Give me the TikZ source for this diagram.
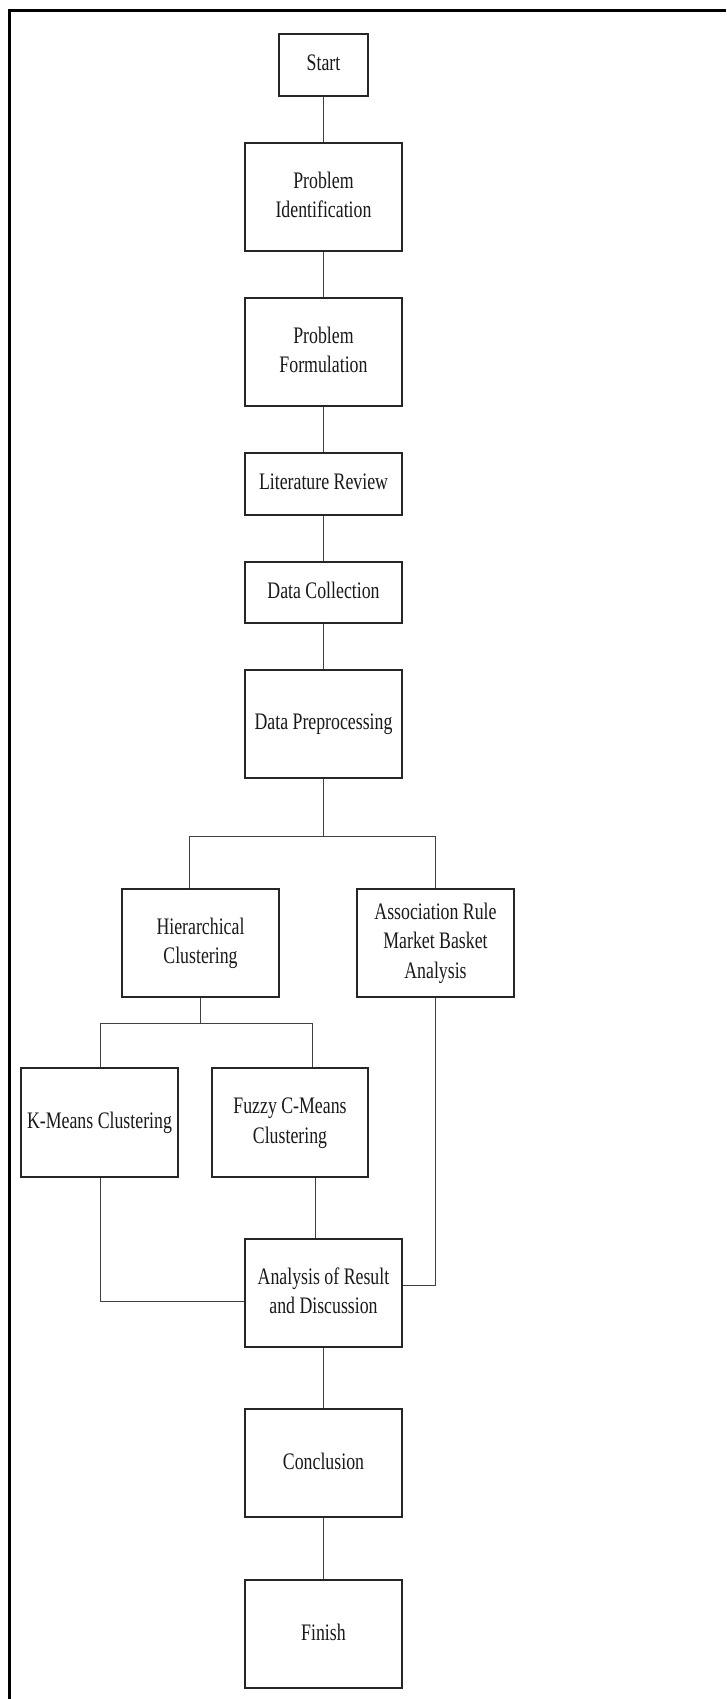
\documentclass[tikz,border=0pt]{standalone}
\usepackage{fontspec}
\usepackage{graphicx}
\setmainfont{Liberation Serif}
\newcommand{\tx}[1]{\scalebox{1}[1.33]{\begin{tabular}{@{}c@{}}#1\end{tabular}}}
\begin{document}
\begin{tikzpicture}[x=1pt,y=-1pt,
  box/.style={draw=black!85,line width=1.2pt,rectangle,inner sep=0pt,
    minimum width=157pt,minimum height=108pt,
    font=\fontsize{17.8}{22.5}\selectfont,text=black!90},
  conn/.style={draw=black!75,line width=1pt},
  frame/.style={draw=black,line width=3pt}]
\useasboundingbox (0,0) rectangle (726,1699);
\fill[white] (0,0) rectangle (726,1699);
% frame (cropped)
\draw[frame] (9.5,10.5) -- (726,10.5);
\draw[frame] (9.5,9) -- (9.5,1699);
% nodes
\node[box,minimum width=89pt,minimum height=62pt] (start) at (323.5,65) {\tx{Start}};
\node[box] (pid) at (323.5,197) {\tx{Problem\\Identification}};
\node[box] (pf) at (323.5,352) {\tx{Problem\\Formulation}};
\node[box,minimum height=62pt] (lr) at (323.5,484) {\tx{Literature Review}};
\node[box,minimum height=61pt] (dc) at (323.5,592.5) {\tx{Data Collection}};
\node[box] (dp) at (323.5,724) {\tx{Data Preprocessing}};
\node[box] (hc) at (200.5,943) {\tx{Hierarchical\\Clustering}};
\node[box] (ar) at (435.5,943) {\tx{Association Rule\\Market Basket\\Analysis}};
\node[box,minimum height=109pt] (km) at (99.5,1122.5) {\tx{K-Means Clustering}};
\node[box,minimum width=156pt,minimum height=109pt] (fc) at (290,1122.5) {\tx{Fuzzy C-Means\\Clustering}};
\node[box] (an) at (323.5,1293) {\tx{Analysis of Result\\and Discussion}};
\node[box] (co) at (323.5,1463) {\tx{Conclusion}};
\node[box] (fi) at (323.5,1634) {\tx{Finish}};
% branch coordinates
\coordinate (b1) at (323.5,836);
\coordinate (b1l) at (189,836);
\coordinate (b1r) at (435,836);
\coordinate (b2) at (200,1023);
\coordinate (b2l) at (100,1023);
\coordinate (b2r) at (312,1023);
\coordinate (kmc) at (100,1301);
\coordinate (arc) at (435,1285);
\coordinate (fcx) at (315,1177);
% connectors
\draw[conn] (start) -- (pid);
\draw[conn] (pid) -- (pf);
\draw[conn] (pf) -- (lr);
\draw[conn] (lr) -- (dc);
\draw[conn] (dc) -- (dp);
\draw[conn] (dp.south) -- (b1);
\draw[conn] (hc.north -| b1l) -- (b1l) -- (b1r) -- (ar.north -| b1r);
\draw[conn] (hc.south -| b2) -- (b2);
\draw[conn] (km.north -| b2l) -- (b2l) -- (b2r) -- (fc.north -| b2r);
\draw[conn] (fc.south -| fcx) -- (an.north -| fcx);
\draw[conn] (km.south -| kmc) -- (kmc) -- (an.west |- kmc);
\draw[conn] (ar.south -| arc) -- (arc) -- (an.east |- arc);
\draw[conn] (an) -- (co);
\draw[conn] (co) -- (fi);
\end{tikzpicture}
\end{document}
